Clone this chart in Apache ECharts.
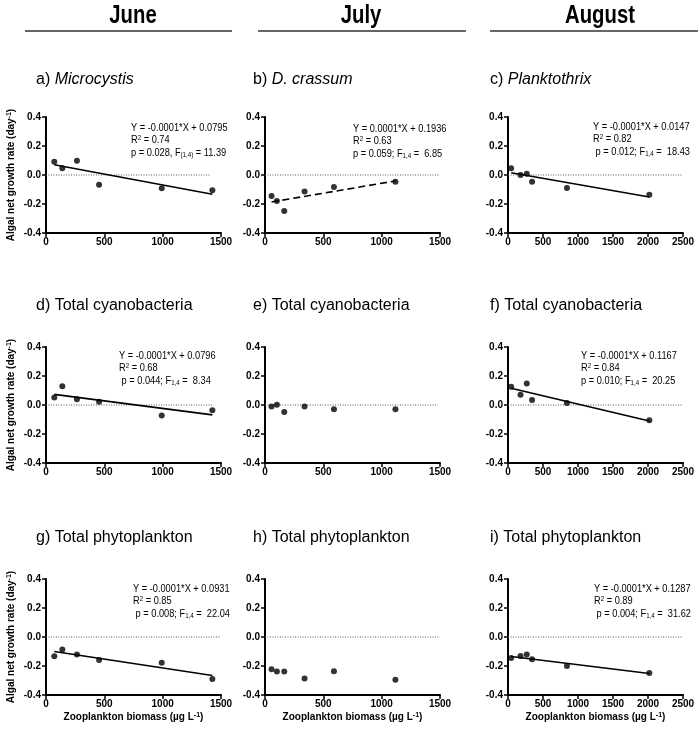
<!DOCTYPE html>
<html><head><meta charset="utf-8">
<script src="https://cdn.jsdelivr.net/npm/echarts@6/dist/echarts.min.js"></script>
<style>html,body{margin:0;padding:0;background:#fff}#c{width:700px;height:732px}</style>
</head><body><div id="c"></div>
<script>
// ---------- data ----------
const months = ['June', 'July', 'August'];
const panelTitles = [
  'a) {i|Microcystis}', 'b) {i|D. crassum}', 'c) {i|Planktothrix}',
  'd) Total cyanobacteria', 'e) Total cyanobacteria', 'f) Total cyanobacteria',
  'g) Total phytoplankton', 'h) Total phytoplankton', 'i) Total phytoplankton'
];
// zooplankton biomass (µg L-1) per month
const juneBiomass = [71, 140, 265, 455, 992, 1426];
const julyBiomass = [56, 102, 165, 339, 591, 1118];
const augustBiomass = [45, 179, 268, 344, 842, 2019];
// algal net growth rate (day-1)
const aMicrocystis = [0.092, 0.046, 0.099, -0.067, -0.092, -0.106];
const bDcrassum = [-0.145, -0.179, -0.248, -0.113, -0.083, -0.046];
const cPlanktothrix = [0.046, 0.0, 0.009, -0.046, -0.090, -0.136];
const dCyanoJune = [0.052, 0.130, 0.039, 0.023, -0.073, -0.036];
const eCyanoJuly = [-0.011, 0.002, -0.048, -0.011, -0.030, -0.030];
const fCyanoAug = [0.126, 0.071, 0.149, 0.034, 0.014, -0.106];
const gPhytoJune = [-0.133, -0.087, -0.120, -0.158, -0.177, -0.290];
const hPhytoJuly = [-0.222, -0.238, -0.238, -0.287, -0.236, -0.294];
const iPhytoAug = [-0.145, -0.131, -0.120, -0.154, -0.200, -0.248];
// regression line end points [x, y]
const aFit = [[71, 0.071], [1426, -0.133]];
const bFit = [[56, -0.186], [1118, -0.041]];
const cFit = [[45, 0.016], [2019, -0.152]];
const dFit = [[71, 0.073], [1426, -0.068]];
const fFit = [[45, 0.115], [2019, -0.110]];
const gFit = [[71, -0.100], [1426, -0.265]];
const iFit = [[45, -0.135], [2019, -0.252]];
// axis ticks
const xMaxByMonth = [1500, 1500, 2500];
const xInterval = 500;
const yMin = -0.4, yMax = 0.4, yInterval = 0.2;
// regression annotations
const eqA = ['Y = -0.0001*X + 0.0795', 'R{sup|2} = 0.74', 'p = 0.028, F{sub|(1,4)} = 11.39'];
const eqB = ['Y = 0.0001*X + 0.1936', 'R{sup|2} = 0.63', 'p = 0.059; F{sub|1,4} =  6.85'];
const eqC = ['Y = -0.0001*X + 0.0147', 'R{sup|2} = 0.82', ' p = 0.012; F{sub|1,4} =  18.43'];
const eqD = ['Y = -0.0001*X + 0.0796', 'R{sup|2} = 0.68', ' p = 0.044; F{sub|1,4} =  8.34'];
const eqF = ['Y = -0.0001*X + 0.1167', 'R{sup|2} = 0.84', 'p = 0.010; F{sub|1,4} =  20.25'];
const eqG = ['Y = -0.0001*X + 0.0931', 'R{sup|2} = 0.85', ' p = 0.008; F{sub|1,4} =  22.04'];
const eqI = ['Y = -0.0001*X + 0.1287', 'R{sup|2} = 0.89', ' p = 0.004; F{sub|1,4} =  31.62'];

// ---------- layout ----------
const monthX = [juneBiomass, julyBiomass, augustBiomass];
const panelY = [aMicrocystis, bDcrassum, cPlanktothrix, dCyanoJune, eCyanoJuly, fCyanoAug, gPhytoJune, hPhytoJuly, iPhytoAug];
const panelFit = [aFit, bFit, cFit, dFit, null, fFit, gFit, null, iFit];
const panelEq = [eqA, eqB, eqC, eqD, null, eqF, eqG, null, eqI];
const zeroEnd = [1410, 1500, 2500, 1425, 1480, 2500, 1490, 1500, 2500];

const colLeft = [46, 265, 508];
const rowTop = [117, 347, 579];
const W = 175, H = 116;
const FONT = '"Liberation Sans", Arial, sans-serif';

const eqPos = [[131, 128], [353, 129], [593, 127], [119, 356], null, [581, 356], [133, 589], null, [594, 589]];
const titlePos = [[36, 253, 490], [81, 307, 539]];

const grids = [], xAxes = [], yAxes = [], series = [], graphics = [];
for (let p = 0; p < 9; p++) {
  const r = Math.floor(p / 3), c = p % 3;
  grids.push({ left: colLeft[c], top: rowTop[r], width: W, height: H });
  const axisCommon = {
    gridIndex: p, type: 'value',
    axisLine: { show: true, onZero: false, lineStyle: { color: '#000', width: 2 } },
    axisTick: { show: true, inside: false, length: 4, lineStyle: { color: '#000', width: 1.5 } },
    splitLine: { show: false },
    axisLabel: { color: '#000', fontWeight: 'bold', fontSize: 10, fontFamily: FONT }
  };
  const xa = Object.assign({}, axisCommon, {
    min: 0, max: xMaxByMonth[c], interval: xInterval, position: 'bottom',
    axisLabel: Object.assign({}, axisCommon.axisLabel, { margin: 4, formatter: v => String(v) })
  });
  if (r === 2) {
    xa.name = 'Zooplankton biomass (µg L{sup|-1})';
    xa.nameLocation = 'middle';
    xa.nameGap = 17;
    xa.nameTextStyle = { color: '#000', fontWeight: 'bold', fontSize: 10, fontFamily: FONT,
      rich: { sup: { fontSize: 7, fontWeight: 'bold', verticalAlign: 'top', color: '#000' } } };
  }
  xAxes.push(xa);
  const ya = Object.assign({}, axisCommon, {
    min: yMin, max: yMax, interval: yInterval, position: 'left',
    axisLabel: Object.assign({}, axisCommon.axisLabel, { margin: 5, formatter: v => v.toFixed(1) })
  });
  if (c === 0) {
    ya.name = 'Algal net growth rate (day{sup|-1})';
    ya.nameLocation = 'middle';
    ya.nameRotate = 90;
    ya.nameGap = 30;
    ya.nameTextStyle = { color: '#000', fontWeight: 'bold', fontSize: 10, fontFamily: FONT,
      rich: { sup: { fontSize: 7, fontWeight: 'bold', verticalAlign: 'top', color: '#000' } } };
  }
  yAxes.push(ya);

  // zero reference line
  series.push({ type: 'line', xAxisIndex: p, yAxisIndex: p, data: [[0, 0], [zeroEnd[p], 0]],
    symbol: 'none', silent: true, lineStyle: { color: '#555', width: 1, type: [1, 1.5] }, z: 1 });
  // regression
  if (panelFit[p]) {
    series.push({ type: 'line', xAxisIndex: p, yAxisIndex: p, data: panelFit[p], symbol: 'none', silent: true,
      lineStyle: { color: '#000', width: 1.6, type: p === 1 ? [7, 4] : 'solid' }, z: 2 });
  }
  // points
  series.push({ type: 'scatter', xAxisIndex: p, yAxisIndex: p, symbol: 'circle', symbolSize: 6,
    itemStyle: { color: '#000' }, data: monthX[c].map((x, i) => [x, panelY[p][i]]), z: 3 });

  // panel title
  graphics.push({ type: 'text', left: titlePos[0][c], top: titlePos[1][r] - 9,
    style: { text: panelTitles[p], fontSize: 16, fontFamily: FONT, fill: '#000',
      rich: { i: { fontSize: 16, fontStyle: 'italic', fontFamily: FONT, fill: '#000' } } } });
  // annotations
  if (panelEq[p]) {
    const [ex, ey] = eqPos[p];
    panelEq[p].forEach((line, k) => {
      graphics.push({ type: 'text', x: ex, y: ey + k * 12.5, scaleX: 0.88,
        style: { text: line, fontSize: 10.5, fontFamily: FONT, fill: '#000', verticalAlign: 'middle', align: 'left',
          rich: {
            sup: { fontSize: 7, fontFamily: FONT, fill: '#000', verticalAlign: 'top' },
            sub: { fontSize: 7, fontFamily: FONT, fill: '#000', verticalAlign: 'bottom' }
          } } });
    });
  }
}
// month headers
const headCenter = [133, 361, 600];
const headLine = [[25, 232], [258, 466], [490, 698]];
months.forEach((m, c) => {
  graphics.push({ type: 'text', x: headCenter[c], y: 16, scaleX: 0.78,
    style: { text: m, fontSize: 26, fontWeight: 'bold', fontFamily: FONT, fill: '#000', align: 'center', verticalAlign: 'middle' } });
  graphics.push({ type: 'line', shape: { x1: headLine[c][0], y1: 31, x2: headLine[c][1], y2: 31 },
    style: { stroke: '#333', lineWidth: 1.5 } });
});

const chart = echarts.init(document.getElementById('c'), null, { renderer: 'canvas' });
chart.setOption({
  animation: false,
  backgroundColor: '#fff',
  grid: grids, xAxis: xAxes, yAxis: yAxes, series: series, graphic: graphics
});
</script></body></html>
